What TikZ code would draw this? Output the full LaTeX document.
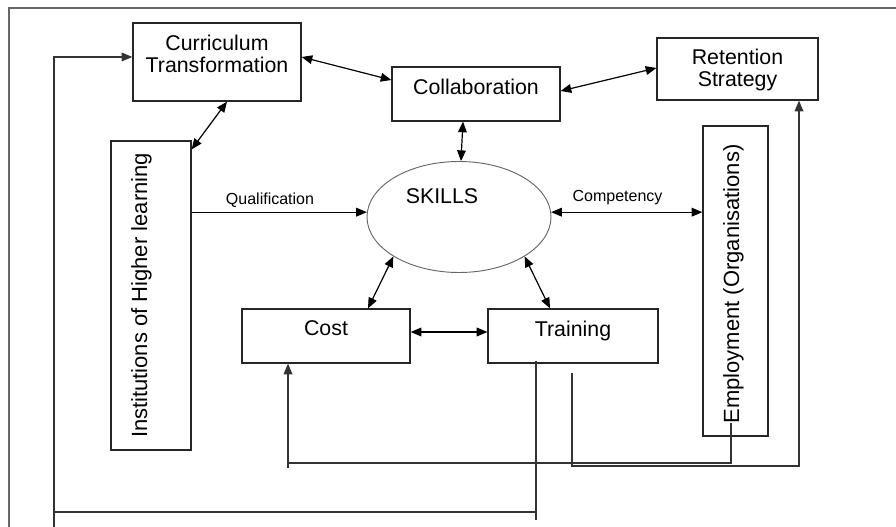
\documentclass[tikz,border=0pt]{standalone}
\usepackage{fontspec}
\setmainfont{Liberation Sans}
\usetikzlibrary{arrows.meta,calc,shapes.geometric}
\begin{document}
\begin{tikzpicture}[x=0.75pt,y=-0.75pt,
  >={Triangle[length=8pt,width=6.5pt]},
  box/.style={draw=black!85, line width=0.9pt, inner sep=0pt, align=center,
    font=\fontsize{16}{17}\selectfont},
  vbox/.style={draw=black!85, line width=0.9pt, inner sep=0pt,
    font=\fontsize{16.5}{18}\selectfont},
  oval/.style={ellipse, draw=black!60, line width=0.7pt, inner sep=0pt,
    font=\fontsize{16}{17}\selectfont},
  con/.style={draw=black, line width=0.9pt},
  fb/.style={draw=black!80, line width=0.9pt},
  lbl/.style={inner sep=0pt, font=\fontsize{12}{13}\selectfont},
  frame/.style={draw=black!60, line width=1.1pt}]
\useasboundingbox (0,0) rectangle (896,527);
\draw[frame] (896,8) -- (9,8) -- (9,527);

\node[box, minimum width=126pt, minimum height=58.5pt, text height=25.5pt, text depth=9pt]
  (cur) at (217,62) {Curriculum\\Transformation};
\node[box, minimum width=126pt, minimum height=40.5pt, text height=9pt, text depth=7.5pt]
  (col) at (476,94) {Collaboration};
\node[box, minimum width=120.75pt, minimum height=46.5pt, text height=31.5pt, text depth=4.5pt]
  (ret) at (737.5,69) {Retention\\Strategy};
\node[vbox, minimum width=60pt, minimum height=231.75pt]
  (inst) at (151,295.5) {\rotatebox{90}{\raisebox{0pt}[9pt][15pt]{Institutions of Higher learning}}};
\node[vbox, minimum width=48.75pt, minimum height=232.5pt]
  (emp) at (735.5,281) {\rotatebox{90}{\raisebox{0pt}[9pt][3.75pt]{Employment (Organisations)\hspace*{4.5pt}}}};
\node[oval, minimum width=138pt, minimum height=83.25pt, text height=9pt, text depth=28.5pt]
  (skills) at (459,217) {SKILLS\hspace*{25.5pt}};
\node[box, minimum width=126pt, minimum height=40.5pt, text height=9pt, text depth=10.5pt]
  (cost) at (326,336) {Cost};
\node[box, minimum width=127.5pt, minimum height=40.5pt, text height=9pt, text depth=9pt]
  (train) at (573,336) {Training};

% connectors
\draw[con, <->] ([yshift=3.75pt]cur.east) -- ([yshift=10.5pt]col.west);
\draw[con, <->] ([xshift=7.5pt]cur.south) -- ([yshift=-6.75pt]inst.north east);
\draw[con, <->] ([yshift=2.25pt]col.east) -- ([yshift=0.75pt]ret.west);
\draw[con, <->] ([xshift=-9.75pt]col.south) -- (skills.88);
\draw[con, ->] (inst.east |- skills.177) -- (skills.177);
\node[lbl, anchor=base] (qlab) at (270,205) {Qualification};
\draw[con, <->] (skills.3) -- (emp.west |- skills.3);
\node[lbl, anchor=base] (clab) at (617.5,202) {Competency};
\draw[con, <->] (skills.211) -- ([xshift=31.5pt]cost.north);
\draw[con, <->] (skills.-31) -- ([xshift=-17.25pt]train.north);
\draw[con, <->] ([yshift=3pt]cost.east) -- ([yshift=3pt]train.west);

% feedback lines
\coordinate (empin) at (731,423);
\coordinate (fbL) at (288,463);
\coordinate (fbLs) at (288,468);
\draw[fb, ->] (empin) |- (fbL) -- (fbL |- cost.south);
\draw[fb] (fbL) -- (fbLs);

\coordinate (trs) at (572,373);
\coordinate (fbR) at (799,466);
\draw[fb, ->] (trs) |- (fbR) -- (fbR |- ret.south);

\coordinate (br) at (536,512);
\coordinate (brs) at (536,520);
\coordinate (bl) at (54,512);
\coordinate (bls) at (54,527);
\draw[fb] ([yshift=2.25pt]br |- train.south) -- (brs);
\draw[fb, ->] (br) -- (bl) |- ([yshift=3.75pt]cur.west);
\draw[fb] (bl) -- (bls);
\end{tikzpicture}
\end{document}
